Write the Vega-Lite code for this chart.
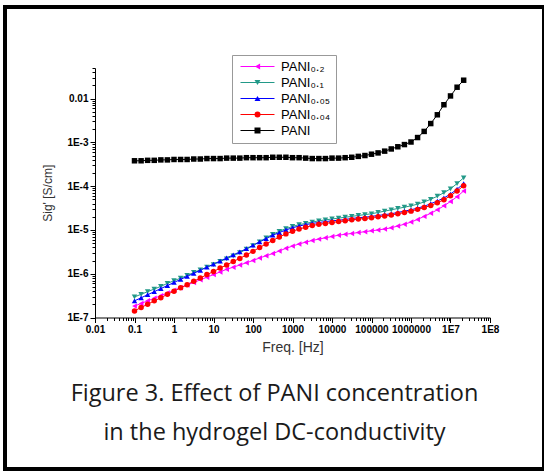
{
"$schema": "https://vega.github.io/schema/vega-lite/v6.json",
"width": 539, "height": 462,
"autosize": {"type": "none"},
"padding": {"left": 5, "top": 7, "right": 0, "bottom": 3},
"background": "white",
"config": {"view": {"stroke": "#000000", "strokeWidth": 4}, "font": "Liberation Sans"},
"title": {"text": ["Figure 3. Effect of PANI concentration", "in the hydrogel DC-conductivity"], "orient": "bottom", "anchor": "middle", "frame": "group", "offset": -87, "font": "Open Sans", "fontSize": 23.5, "fontWeight": "normal", "color": "#1a1a1a", "lineHeight": 39, "baseline": "top"},
"data": {"values": [
{"series":"a","freq":0.1,"sig":1.82e-7},{"series":"a","freq":0.147,"sig":2.09e-7},{"series":"a","freq":0.215,"sig":2.40e-7},{"series":"a","freq":0.316,"sig":2.75e-7},{"series":"a","freq":0.464,"sig":3.16e-7},{"series":"a","freq":0.681,"sig":3.63e-7},{"series":"a","freq":1,"sig":4.17e-7},{"series":"a","freq":1.47,"sig":4.79e-7},{"series":"a","freq":2.15,"sig":5.50e-7},{"series":"a","freq":3.16,"sig":6.31e-7},{"series":"a","freq":4.64,"sig":7.24e-7},{"series":"a","freq":6.81,"sig":8.32e-7},{"series":"a","freq":10,"sig":9.55e-7},{"series":"a","freq":14.7,"sig":1.10e-6},{"series":"a","freq":21.5,"sig":1.26e-6},{"series":"a","freq":31.6,"sig":1.41e-6},{"series":"a","freq":46.4,"sig":1.58e-6},{"series":"a","freq":68.1,"sig":1.78e-6},{"series":"a","freq":100,"sig":2.00e-6},{"series":"a","freq":147,"sig":2.29e-6},{"series":"a","freq":215,"sig":2.57e-6},{"series":"a","freq":316,"sig":2.88e-6},{"series":"a","freq":464,"sig":3.31e-6},{"series":"a","freq":681,"sig":3.80e-6},{"series":"a","freq":1000,"sig":4.27e-6},{"series":"a","freq":1468,"sig":4.79e-6},{"series":"a","freq":2154,"sig":5.25e-6},{"series":"a","freq":3162,"sig":5.75e-6},{"series":"a","freq":4642,"sig":6.17e-6},{"series":"a","freq":6813,"sig":6.61e-6},{"series":"a","freq":10000,"sig":7.08e-6},{"series":"a","freq":14678,"sig":7.59e-6},{"series":"a","freq":21544,"sig":7.94e-6},{"series":"a","freq":31623,"sig":8.32e-6},{"series":"a","freq":46416,"sig":8.71e-6},{"series":"a","freq":68129,"sig":9.12e-6},{"series":"a","freq":100000,"sig":9.55e-6},{"series":"a","freq":146780,"sig":1.00e-5},{"series":"a","freq":215443,"sig":1.05e-5},{"series":"a","freq":316228,"sig":1.12e-5},{"series":"a","freq":464159,"sig":1.23e-5},{"series":"a","freq":681292,"sig":1.35e-5},{"series":"a","freq":1000000,"sig":1.51e-5},{"series":"a","freq":1467799,"sig":1.74e-5},{"series":"a","freq":2154435,"sig":2.04e-5},{"series":"a","freq":3162278,"sig":2.40e-5},{"series":"a","freq":4641589,"sig":2.88e-5},{"series":"a","freq":6812921,"sig":3.55e-5},{"series":"a","freq":10000000,"sig":4.47e-5},{"series":"a","freq":14677993,"sig":5.75e-5},{"series":"a","freq":21544347,"sig":7.76e-5},
{"series":"b","freq":0.1,"sig":2.95e-7},{"series":"b","freq":0.147,"sig":3.39e-7},{"series":"b","freq":0.215,"sig":3.89e-7},{"series":"b","freq":0.316,"sig":4.47e-7},{"series":"b","freq":0.464,"sig":5.13e-7},{"series":"b","freq":0.681,"sig":6.03e-7},{"series":"b","freq":1,"sig":6.92e-7},{"series":"b","freq":1.47,"sig":7.94e-7},{"series":"b","freq":2.15,"sig":9.12e-7},{"series":"b","freq":3.16,"sig":1.07e-6},{"series":"b","freq":4.64,"sig":1.23e-6},{"series":"b","freq":6.81,"sig":1.41e-6},{"series":"b","freq":10,"sig":1.62e-6},{"series":"b","freq":14.7,"sig":1.91e-6},{"series":"b","freq":21.5,"sig":2.19e-6},{"series":"b","freq":31.6,"sig":2.57e-6},{"series":"b","freq":46.4,"sig":3.02e-6},{"series":"b","freq":68.1,"sig":3.63e-6},{"series":"b","freq":100,"sig":4.37e-6},{"series":"b","freq":147,"sig":5.37e-6},{"series":"b","freq":215,"sig":6.61e-6},{"series":"b","freq":316,"sig":7.94e-6},{"series":"b","freq":464,"sig":9.33e-6},{"series":"b","freq":681,"sig":1.07e-5},{"series":"b","freq":1000,"sig":1.20e-5},{"series":"b","freq":1468,"sig":1.32e-5},{"series":"b","freq":2154,"sig":1.41e-5},{"series":"b","freq":3162,"sig":1.51e-5},{"series":"b","freq":4642,"sig":1.62e-5},{"series":"b","freq":6813,"sig":1.70e-5},{"series":"b","freq":10000,"sig":1.78e-5},{"series":"b","freq":14678,"sig":1.86e-5},{"series":"b","freq":21544,"sig":1.95e-5},{"series":"b","freq":31623,"sig":2.04e-5},{"series":"b","freq":46416,"sig":2.14e-5},{"series":"b","freq":68129,"sig":2.24e-5},{"series":"b","freq":100000,"sig":2.34e-5},{"series":"b","freq":146780,"sig":2.51e-5},{"series":"b","freq":215443,"sig":2.69e-5},{"series":"b","freq":316228,"sig":2.88e-5},{"series":"b","freq":464159,"sig":3.09e-5},{"series":"b","freq":681292,"sig":3.31e-5},{"series":"b","freq":1000000,"sig":3.55e-5},{"series":"b","freq":1467799,"sig":3.89e-5},{"series":"b","freq":2154435,"sig":4.37e-5},{"series":"b","freq":3162278,"sig":5.01e-5},{"series":"b","freq":4641589,"sig":5.89e-5},{"series":"b","freq":6812921,"sig":7.08e-5},{"series":"b","freq":10000000,"sig":8.71e-5},{"series":"b","freq":14677993,"sig":1.15e-4},{"series":"b","freq":21544347,"sig":1.55e-4},
{"series":"c","freq":0.1,"sig":2.40e-7},{"series":"c","freq":0.147,"sig":2.82e-7},{"series":"c","freq":0.215,"sig":3.31e-7},{"series":"c","freq":0.316,"sig":3.89e-7},{"series":"c","freq":0.464,"sig":4.57e-7},{"series":"c","freq":0.681,"sig":5.37e-7},{"series":"c","freq":1,"sig":6.31e-7},{"series":"c","freq":1.47,"sig":7.41e-7},{"series":"c","freq":2.15,"sig":8.71e-7},{"series":"c","freq":3.16,"sig":1.02e-6},{"series":"c","freq":4.64,"sig":1.20e-6},{"series":"c","freq":6.81,"sig":1.41e-6},{"series":"c","freq":10,"sig":1.66e-6},{"series":"c","freq":14.7,"sig":1.95e-6},{"series":"c","freq":21.5,"sig":2.29e-6},{"series":"c","freq":31.6,"sig":2.69e-6},{"series":"c","freq":46.4,"sig":3.16e-6},{"series":"c","freq":68.1,"sig":3.72e-6},{"series":"c","freq":100,"sig":4.47e-6},{"series":"c","freq":147,"sig":5.37e-6},{"series":"c","freq":215,"sig":6.31e-6},{"series":"c","freq":316,"sig":7.59e-6},{"series":"c","freq":464,"sig":8.71e-6},{"series":"c","freq":681,"sig":1.00e-5},{"series":"c","freq":1000,"sig":1.12e-5},{"series":"c","freq":1468,"sig":1.23e-5},{"series":"c","freq":2154,"sig":1.32e-5},{"series":"c","freq":3162,"sig":1.41e-5},{"series":"c","freq":4642,"sig":1.48e-5},{"series":"c","freq":6813,"sig":1.55e-5},{"series":"c","freq":10000,"sig":1.62e-5},{"series":"c","freq":14678,"sig":1.66e-5},{"series":"c","freq":21544,"sig":1.74e-5},{"series":"c","freq":31623,"sig":1.82e-5},{"series":"c","freq":46416,"sig":1.91e-5},{"series":"c","freq":68129,"sig":1.95e-5},{"series":"c","freq":100000,"sig":2.04e-5},{"series":"c","freq":146780,"sig":2.14e-5},{"series":"c","freq":215443,"sig":2.24e-5},{"series":"c","freq":316228,"sig":2.34e-5},{"series":"c","freq":464159,"sig":2.51e-5},{"series":"c","freq":681292,"sig":2.69e-5},{"series":"c","freq":1000000,"sig":2.88e-5},{"series":"c","freq":1467799,"sig":3.16e-5},{"series":"c","freq":2154435,"sig":3.47e-5},{"series":"c","freq":3162278,"sig":3.98e-5},{"series":"c","freq":4641589,"sig":4.57e-5},{"series":"c","freq":6812921,"sig":5.37e-5},{"series":"c","freq":10000000,"sig":6.61e-5},{"series":"c","freq":14677993,"sig":8.51e-5},{"series":"c","freq":21544347,"sig":1.15e-4},
{"series":"d","freq":0.1,"sig":1.41e-7},{"series":"d","freq":0.147,"sig":1.70e-7},{"series":"d","freq":0.215,"sig":2.00e-7},{"series":"d","freq":0.316,"sig":2.40e-7},{"series":"d","freq":0.464,"sig":2.82e-7},{"series":"d","freq":0.681,"sig":3.39e-7},{"series":"d","freq":1,"sig":3.98e-7},{"series":"d","freq":1.47,"sig":4.79e-7},{"series":"d","freq":2.15,"sig":5.62e-7},{"series":"d","freq":3.16,"sig":6.76e-7},{"series":"d","freq":4.64,"sig":7.94e-7},{"series":"d","freq":6.81,"sig":9.55e-7},{"series":"d","freq":10,"sig":1.12e-6},{"series":"d","freq":14.7,"sig":1.35e-6},{"series":"d","freq":21.5,"sig":1.58e-6},{"series":"d","freq":31.6,"sig":1.91e-6},{"series":"d","freq":46.4,"sig":2.24e-6},{"series":"d","freq":68.1,"sig":2.69e-6},{"series":"d","freq":100,"sig":3.24e-6},{"series":"d","freq":147,"sig":3.98e-6},{"series":"d","freq":215,"sig":4.79e-6},{"series":"d","freq":316,"sig":5.75e-6},{"series":"d","freq":464,"sig":6.92e-6},{"series":"d","freq":681,"sig":8.13e-6},{"series":"d","freq":1000,"sig":9.33e-6},{"series":"d","freq":1468,"sig":1.05e-5},{"series":"d","freq":2154,"sig":1.15e-5},{"series":"d","freq":3162,"sig":1.26e-5},{"series":"d","freq":4642,"sig":1.35e-5},{"series":"d","freq":6813,"sig":1.41e-5},{"series":"d","freq":10000,"sig":1.48e-5},{"series":"d","freq":14678,"sig":1.55e-5},{"series":"d","freq":21544,"sig":1.62e-5},{"series":"d","freq":31623,"sig":1.70e-5},{"series":"d","freq":46416,"sig":1.78e-5},{"series":"d","freq":68129,"sig":1.82e-5},{"series":"d","freq":100000,"sig":1.91e-5},{"series":"d","freq":146780,"sig":2.00e-5},{"series":"d","freq":215443,"sig":2.09e-5},{"series":"d","freq":316228,"sig":2.19e-5},{"series":"d","freq":464159,"sig":2.34e-5},{"series":"d","freq":681292,"sig":2.51e-5},{"series":"d","freq":1000000,"sig":2.69e-5},{"series":"d","freq":1467799,"sig":2.95e-5},{"series":"d","freq":2154435,"sig":3.24e-5},{"series":"d","freq":3162278,"sig":3.63e-5},{"series":"d","freq":4641589,"sig":4.17e-5},{"series":"d","freq":6812921,"sig":4.90e-5},{"series":"d","freq":10000000,"sig":6.03e-5},{"series":"d","freq":14677993,"sig":7.76e-5},{"series":"d","freq":21544347,"sig":1.02e-4},
{"series":"e","freq":0.1,"sig":3.80e-4},{"series":"e","freq":0.147,"sig":3.80e-4},{"series":"e","freq":0.215,"sig":3.89e-4},{"series":"e","freq":0.316,"sig":3.89e-4},{"series":"e","freq":0.464,"sig":3.98e-4},{"series":"e","freq":0.681,"sig":3.98e-4},{"series":"e","freq":1,"sig":4.07e-4},{"series":"e","freq":1.47,"sig":4.07e-4},{"series":"e","freq":2.15,"sig":4.07e-4},{"series":"e","freq":3.16,"sig":4.17e-4},{"series":"e","freq":4.64,"sig":4.17e-4},{"series":"e","freq":6.81,"sig":4.27e-4},{"series":"e","freq":10,"sig":4.27e-4},{"series":"e","freq":14.7,"sig":4.27e-4},{"series":"e","freq":21.5,"sig":4.37e-4},{"series":"e","freq":31.6,"sig":4.37e-4},{"series":"e","freq":46.4,"sig":4.37e-4},{"series":"e","freq":68.1,"sig":4.47e-4},{"series":"e","freq":100,"sig":4.47e-4},{"series":"e","freq":147,"sig":4.47e-4},{"series":"e","freq":215,"sig":4.47e-4},{"series":"e","freq":316,"sig":4.57e-4},{"series":"e","freq":464,"sig":4.57e-4},{"series":"e","freq":681,"sig":4.57e-4},{"series":"e","freq":1000,"sig":4.47e-4},{"series":"e","freq":1468,"sig":4.47e-4},{"series":"e","freq":2154,"sig":4.37e-4},{"series":"e","freq":3162,"sig":4.27e-4},{"series":"e","freq":4642,"sig":4.27e-4},{"series":"e","freq":6813,"sig":4.27e-4},{"series":"e","freq":10000,"sig":4.37e-4},{"series":"e","freq":14678,"sig":4.37e-4},{"series":"e","freq":21544,"sig":4.47e-4},{"series":"e","freq":31623,"sig":4.57e-4},{"series":"e","freq":46416,"sig":4.79e-4},{"series":"e","freq":68129,"sig":5.01e-4},{"series":"e","freq":100000,"sig":5.37e-4},{"series":"e","freq":146780,"sig":5.75e-4},{"series":"e","freq":215443,"sig":6.31e-4},{"series":"e","freq":316228,"sig":7.08e-4},{"series":"e","freq":464159,"sig":7.94e-4},{"series":"e","freq":681292,"sig":8.91e-4},{"series":"e","freq":1000000,"sig":1.02e-3},{"series":"e","freq":1467799,"sig":1.29e-3},{"series":"e","freq":2154435,"sig":1.78e-3},{"series":"e","freq":3162278,"sig":2.69e-3},{"series":"e","freq":4641589,"sig":4.27e-3},{"series":"e","freq":6812921,"sig":7.24e-3},{"series":"e","freq":10000000,"sig":1.15e-2},{"series":"e","freq":14677993,"sig":1.82e-2},{"series":"e","freq":21544347,"sig":2.63e-2}
]},
"layer": [
{"mark": {"type": "line", "strokeWidth": 1, "clip": false},
 "encoding": {
  "x": {"field": "freq", "type": "quantitative",
   "scale": {"type": "log", "domain": [0.01, 100000000], "range": [90, 485], "nice": false},
   "axis": {"orient": "bottom", "offset": -151.5, "values": [0.01, 0.1, 1, 10, 100, 1000, 10000, 100000, 1000000, 10000000, 100000000],
    "labelExpr": "datum.value >= 1e7 ? '1E' + round(log(datum.value)/LN10) : (datum.value < 1 ? format(datum.value, '.2~f') : format(datum.value, 'd'))",
    "labelOverlap": false, "labelFlush": false, "labelBound": false, "grid": false,
    "domainColor": "#000000", "domainWidth": 1, "tickColor": "#000000", "tickSize": 5, "tickWidth": 1,
    "labelFont": "Liberation Sans", "labelFontSize": 10, "labelFontWeight": "bold", "labelColor": "#000000", "labelPadding": 2,
    "title": "Freq. [Hz]", "titleFont": "Liberation Sans", "titleFontSize": 14, "titleFontWeight": "normal", "titleColor": "#333333", "titlePadding": 6}},
  "y": {"field": "sig", "type": "quantitative",
   "scale": {"type": "log", "domain": [1e-7, 0.05], "range": [310.5, 61], "nice": false},
   "axis": {"orient": "left", "offset": -90, "values": [1e-7, 1e-6, 1e-5, 1e-4, 1e-3, 0.01],
    "labelExpr": "datum.value >= 0.005 ? '0.01' : '1E' + round(log(datum.value)/LN10)",
    "labelOverlap": false, "labelFlush": false, "labelBound": false, "grid": false,
    "domainColor": "#000000", "domainWidth": 1, "tickColor": "#000000", "tickSize": 5, "tickWidth": 1,
    "labelFont": "Liberation Sans", "labelFontSize": 10, "labelFontWeight": "bold", "labelColor": "#000000", "labelPadding": 2,
    "title": "Sig' [S/cm]", "titleFont": "Liberation Sans", "titleFontSize": 12, "titleFontWeight": "normal", "titleColor": "#333333", "titlePadding": 12}},
  "color": {"field": "series", "type": "nominal",
   "scale": {"domain": ["a", "b", "c", "d", "e"], "range": ["#ff00ff", "#229988", "#0000ff", "#ff0000", "#000000"]},
   "legend": {"orient": "none", "legendX": 227, "legendY": 48, "title": null,
    "strokeColor": "#999999", "fillColor": "#ffffff", "padding": 5, "symbolType": "M-1,0H10.33", "symbolSize": 36, "symbolStrokeWidth": 1, "labelOffset": 31, "rowPadding": 2,
    "labelFont": "Liberation Sans", "labelFontSize": 13, "labelColor": "#000000", "labelLimit": 200,
    "labelExpr": "datum.value == 'a' ? 'PANI₀.₂' : datum.value == 'b' ? 'PANI₀.₁' : datum.value == 'c' ? 'PANI₀.₀₅' : datum.value == 'd' ? 'PANI₀.₀₄' : 'PANI'"}}
 }},
{"mark": {"type": "point", "filled": true, "size": 30, "opacity": 1, "clip": false},
 "encoding": {
  "x": {"field": "freq", "type": "quantitative",
   "axis": {"orient": "bottom", "offset": -151.5, "values": [0.02,0.03,0.04,0.05,0.06,0.07,0.08,0.09,0.2,0.3,0.4,0.5,0.6,0.7,0.8,0.9,2,3,4,5,6,7,8,9,20,30,40,50,60,70,80,90,200,300,400,500,600,700,800,900,2000,3000,4000,5000,6000,7000,8000,9000,20000,30000,40000,50000,60000,70000,80000,90000,200000,300000,400000,500000,600000,700000,800000,900000,2000000,3000000,4000000,5000000,6000000,7000000,8000000,9000000,20000000,30000000,40000000,50000000,60000000,70000000,80000000,90000000],
    "labels": false, "domain": false, "grid": false, "tickSize": 3, "tickColor": "#000000", "tickWidth": 1, "title": null}},
  "y": {"field": "sig", "type": "quantitative",
   "axis": {"orient": "left", "offset": -90, "values": [2e-7,3e-7,4e-7,5e-7,6e-7,7e-7,8e-7,9e-7,2e-6,3e-6,4e-6,5e-6,6e-6,7e-6,8e-6,9e-6,2e-5,3e-5,4e-5,5e-5,6e-5,7e-5,8e-5,9e-5,2e-4,3e-4,4e-4,5e-4,6e-4,7e-4,8e-4,9e-4,2e-3,3e-3,4e-3,5e-3,6e-3,7e-3,8e-3,9e-3,0.02,0.03,0.04,0.05],
    "labels": false, "domain": false, "grid": false, "tickSize": 3, "tickColor": "#000000", "tickWidth": 1, "title": null}},
  "color": {"field": "series", "type": "nominal",
   "legend": {"orient": "none", "legendX": 241, "legendY": 48, "title": null, "padding": 5, "symbolSize": 36, "labelOffset": 31, "rowPadding": 2,
    "labelFont": "Liberation Sans", "labelFontSize": 13, "labelLimit": 200, "labelExpr": "''"}},
  "shape": {"field": "series", "type": "nominal", "legend": null,
   "scale": {"domain": ["a", "b", "c", "d", "e"], "range": ["triangle-left", "triangle-down", "triangle-up", "circle", "square"]}}
 }}
],
"resolve": {"axis": {"x": "independent", "y": "independent"}, "legend": {"color": "independent", "shape": "independent"}}
}
